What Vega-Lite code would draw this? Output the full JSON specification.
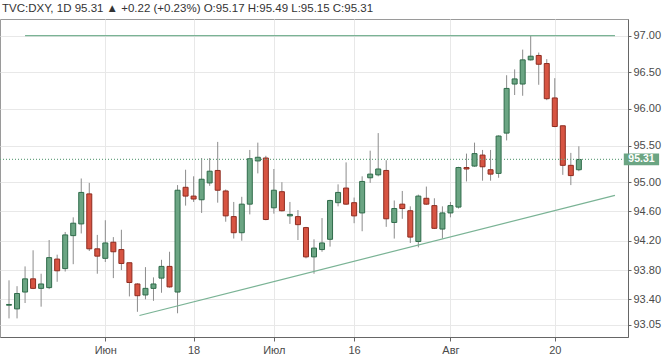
{
  "$schema": "https://vega.github.io/schema/vega-lite/v6.json",
  "width": 628,
  "height": 318,
  "autosize": {"type": "none"},
  "padding": {"left": 0, "top": 19, "right": 37, "bottom": 24},
  "background": "white",
  "title": {
    "text": "TVC:DXY, 1D  95.31 ▲ +0.22 (+0.23%) O:95.17 H:95.49 L:95.15 C:95.31",
    "anchor": "start",
    "frame": "group",
    "offset": 5,
    "dx": 2,
    "fontSize": 11.5,
    "font": "Liberation Sans",
    "fontWeight": "normal",
    "color": "#333333"
  },
  "config": {
    "view": {"stroke": "#9a9a9a", "strokeWidth": 1},
    "font": "Liberation Sans",
    "axis": {"labelOverlap": false, "labelBound": false, "labelFlush": false}
  },
  "datasets": {
    "candles": [
      {"i": 0, "o": 93.32, "h": 93.66, "l": 93.14, "c": 93.33},
      {"i": 1, "o": 93.27, "h": 93.58, "l": 93.14, "c": 93.48},
      {"i": 2, "o": 93.50, "h": 93.85, "l": 93.35, "c": 93.68},
      {"i": 3, "o": 93.68, "h": 94.07, "l": 93.54, "c": 93.55},
      {"i": 4, "o": 93.55, "h": 93.75, "l": 93.30, "c": 93.61},
      {"i": 5, "o": 93.56, "h": 94.21, "l": 93.54, "c": 93.97},
      {"i": 6, "o": 93.95, "h": 94.01, "l": 93.64, "c": 93.79},
      {"i": 7, "o": 93.82, "h": 94.32, "l": 93.78, "c": 94.28},
      {"i": 8, "o": 94.27, "h": 94.52, "l": 93.88, "c": 94.44},
      {"i": 9, "o": 94.43, "h": 95.05, "l": 94.30, "c": 94.86},
      {"i": 10, "o": 94.84, "h": 94.99, "l": 94.06, "c": 94.09},
      {"i": 11, "o": 94.09, "h": 94.28, "l": 93.75, "c": 93.99},
      {"i": 12, "o": 93.96, "h": 94.48, "l": 93.91, "c": 94.17},
      {"i": 13, "o": 94.18, "h": 94.25, "l": 93.69, "c": 94.05},
      {"i": 14, "o": 94.08, "h": 94.35, "l": 93.80, "c": 93.89},
      {"i": 15, "o": 93.90, "h": 93.90, "l": 93.44, "c": 93.63},
      {"i": 16, "o": 93.61, "h": 93.62, "l": 93.23, "c": 93.45},
      {"i": 17, "o": 93.46, "h": 93.84, "l": 93.40, "c": 93.55},
      {"i": 18, "o": 93.55, "h": 93.70, "l": 93.38, "c": 93.61},
      {"i": 19, "o": 93.69, "h": 93.94, "l": 93.49, "c": 93.85},
      {"i": 20, "o": 93.85, "h": 94.05, "l": 93.56, "c": 93.57},
      {"i": 21, "o": 93.50, "h": 94.96, "l": 93.21, "c": 94.89},
      {"i": 22, "o": 94.93, "h": 95.17, "l": 94.68, "c": 94.81},
      {"i": 23, "o": 94.81, "h": 95.08, "l": 94.73, "c": 94.77},
      {"i": 24, "o": 94.76, "h": 95.33, "l": 94.58, "c": 95.04},
      {"i": 25, "o": 94.99, "h": 95.33, "l": 94.95, "c": 95.15},
      {"i": 26, "o": 95.16, "h": 95.55, "l": 94.72, "c": 94.89},
      {"i": 27, "o": 94.88, "h": 94.90, "l": 94.46, "c": 94.54},
      {"i": 28, "o": 94.53, "h": 94.73, "l": 94.23, "c": 94.31},
      {"i": 29, "o": 94.31, "h": 94.80, "l": 94.20, "c": 94.70},
      {"i": 30, "o": 94.70, "h": 95.44, "l": 94.56, "c": 95.32},
      {"i": 31, "o": 95.29, "h": 95.54, "l": 95.12, "c": 95.34},
      {"i": 32, "o": 95.33, "h": 95.36, "l": 94.48, "c": 94.49},
      {"i": 33, "o": 94.65, "h": 95.18, "l": 94.57, "c": 94.89},
      {"i": 34, "o": 94.87, "h": 95.00, "l": 94.60, "c": 94.61},
      {"i": 35, "o": 94.54, "h": 94.73, "l": 94.43, "c": 94.56},
      {"i": 36, "o": 94.53, "h": 94.62, "l": 94.21, "c": 94.42},
      {"i": 37, "o": 94.38, "h": 94.39, "l": 93.96, "c": 93.98},
      {"i": 38, "o": 93.98, "h": 94.22, "l": 93.75, "c": 94.10},
      {"i": 39, "o": 94.08, "h": 94.51, "l": 94.05, "c": 94.17},
      {"i": 40, "o": 94.22, "h": 94.76, "l": 94.12, "c": 94.75},
      {"i": 41, "o": 94.72, "h": 94.97, "l": 94.67, "c": 94.86},
      {"i": 42, "o": 94.92, "h": 95.27, "l": 94.69, "c": 94.70},
      {"i": 43, "o": 94.72, "h": 94.79, "l": 94.44, "c": 94.54},
      {"i": 44, "o": 94.58, "h": 95.08, "l": 94.33, "c": 95.01},
      {"i": 45, "o": 95.06, "h": 95.43, "l": 94.99, "c": 95.11},
      {"i": 46, "o": 95.10, "h": 95.67, "l": 95.08, "c": 95.18},
      {"i": 47, "o": 95.16, "h": 95.30, "l": 94.39, "c": 94.50},
      {"i": 48, "o": 94.45, "h": 94.75, "l": 94.23, "c": 94.64},
      {"i": 49, "o": 94.70, "h": 94.88, "l": 94.50, "c": 94.64},
      {"i": 50, "o": 94.61, "h": 94.67, "l": 94.17, "c": 94.25},
      {"i": 51, "o": 94.19, "h": 94.83, "l": 94.11, "c": 94.81},
      {"i": 52, "o": 94.78, "h": 94.94, "l": 94.69, "c": 94.70},
      {"i": 53, "o": 94.68, "h": 94.78, "l": 94.36, "c": 94.37},
      {"i": 54, "o": 94.36, "h": 94.67, "l": 94.23, "c": 94.58},
      {"i": 55, "o": 94.58, "h": 94.73, "l": 94.52, "c": 94.68},
      {"i": 56, "o": 94.66, "h": 95.21, "l": 94.64, "c": 95.20},
      {"i": 57, "o": 95.20, "h": 95.39, "l": 95.01, "c": 95.18},
      {"i": 58, "o": 95.22, "h": 95.54, "l": 95.21, "c": 95.39},
      {"i": 59, "o": 95.37, "h": 95.44, "l": 95.02, "c": 95.21},
      {"i": 60, "o": 95.17, "h": 95.44, "l": 95.02, "c": 95.11},
      {"i": 61, "o": 95.12, "h": 95.64, "l": 95.06, "c": 95.63},
      {"i": 62, "o": 95.67, "h": 96.46, "l": 95.57, "c": 96.28},
      {"i": 63, "o": 96.34, "h": 96.54, "l": 96.19, "c": 96.41},
      {"i": 64, "o": 96.34, "h": 96.81, "l": 96.18, "c": 96.67},
      {"i": 65, "o": 96.67, "h": 97.00, "l": 96.66, "c": 96.72},
      {"i": 66, "o": 96.73, "h": 96.77, "l": 96.33, "c": 96.61},
      {"i": 67, "o": 96.62, "h": 96.68, "l": 96.12, "c": 96.14},
      {"i": 68, "o": 96.15, "h": 96.42, "l": 95.75, "c": 95.76},
      {"i": 69, "o": 95.77, "h": 95.77, "l": 95.10, "c": 95.23},
      {"i": 70, "o": 95.23, "h": 95.40, "l": 94.96, "c": 95.09},
      {"i": 71, "o": 95.17, "h": 95.49, "l": 95.15, "c": 95.31}
    ],
    "lines": [
      {"x": 2, "x2": 75.5, "y": 97.0, "y2": 97.0},
      {"x": 16.25, "x2": 75.5, "y": 93.18, "y2": 94.82}
    ],
    "last": [
      {"price": 95.31, "label": "95.31"}
    ]
  },
  "layer": [
    {
      "data": {"name": "candles"},
      "mark": {"type": "rule", "color": "#8c8c8c", "strokeWidth": 1},
      "encoding": {
        "x": {
          "field": "i", "type": "quantitative", "title": null,
          "scale": {"domain": [-0.5, 76.5], "nice": false, "zero": false},
          "axis": {
            "orient": "bottom", "title": null,
            "values": [12, 23, 33, 43, 55, 68],
            "tickCount": 20,
            "labelExpr": "datum.value == 12 ? 'Июн' : datum.value == 23 ? '18' : datum.value == 33 ? 'Июл' : datum.value == 43 ? '16' : datum.value == 55 ? 'Авг' : '20'",
            "labelOverlap": false,
            "grid": true, "gridColor": "#e8e8e8", "gridWidth": 1,
            "domain": true, "domainColor": "#666666",
            "ticks": true, "tickSize": 4, "tickColor": "#666666",
            "labelFontSize": 11, "labelColor": "#4a4a4a", "labelPadding": 3,
            "labelFont": "Liberation Sans"
          }
        },
        "y": {
          "field": "l", "type": "quantitative", "title": null,
          "scale": {"domain": [92.886, 97.228], "nice": false, "zero": false},
          "axis": {
            "orient": "right", "title": null,
            "values": [93.05, 93.4, 93.8, 94.2, 94.6, 95.0, 95.5, 96.0, 96.5, 97.0],
            "tickCount": 20,
            "format": ".2f",
            "labelOverlap": false,
            "grid": true, "gridColor": "#e8e8e8", "gridWidth": 1,
            "domain": true, "domainColor": "#666666",
            "ticks": true, "tickSize": 3, "tickColor": "#666666",
            "labelFontSize": 11, "labelColor": "#4a4a4a", "labelPadding": 2,
            "labelFont": "Liberation Sans"
          }
        },
        "y2": {"field": "h"}
      }
    },
    {
      "data": {"name": "candles"},
      "mark": {"type": "bar", "size": 5, "strokeWidth": 1},
      "encoding": {
        "x": {"field": "i", "type": "quantitative", "title": null},
        "y": {"field": "o", "type": "quantitative", "title": null},
        "y2": {"field": "c"},
        "fill": {"condition": {"test": "datum.c >= datum.o", "value": "#6ba583"}, "value": "#d75442"},
        "stroke": {"condition": {"test": "datum.c >= datum.o", "value": "#2f6b4a"}, "value": "#8e2c20"}
      }
    },
    {
      "data": {"name": "lines"},
      "mark": {"type": "rule", "color": "#7ab395", "strokeWidth": 1.2},
      "encoding": {
        "x": {"field": "x", "type": "quantitative", "title": null},
        "x2": {"field": "x2"},
        "y": {"field": "y", "type": "quantitative", "title": null},
        "y2": {"field": "y2"}
      }
    },
    {
      "data": {"name": "last"},
      "mark": {"type": "rule", "color": "#6ba583", "strokeDash": [1, 2], "strokeWidth": 1.2},
      "encoding": {"y": {"field": "price", "type": "quantitative", "title": null}}
    },
    {
      "data": {"name": "last"},
      "mark": {"type": "rect", "fill": "#6ba583"},
      "encoding": {
        "x": {"datum": 76.6}, "x2": {"datum": 81},
        "y": {"datum": 95.39}, "y2": {"datum": 95.23}
      }
    },
    {
      "data": {"name": "last"},
      "mark": {"type": "text", "color": "white", "fontWeight": "bold", "fontSize": 10.5, "align": "center", "baseline": "middle", "font": "Liberation Sans"},
      "encoding": {
        "x": {"datum": 78.8},
        "y": {"field": "price", "type": "quantitative", "title": null},
        "text": {"field": "label"}
      }
    }
  ]
}
